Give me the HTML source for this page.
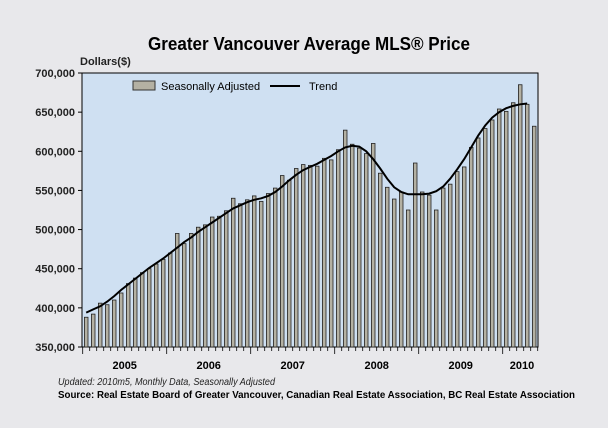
<!DOCTYPE html>
<html><head><meta charset="utf-8"><style>
body{margin:0;width:608px;height:428px;background:#e9e9ec;overflow:hidden;font-family:"Liberation Sans",sans-serif}
svg{display:block}
</style></head><body>
<svg id="chart" width="608" height="428">
<rect x="0" y="0" width="608" height="428" fill="#e8e8eb"/>
<text x="148" y="50" font-size="18" font-weight="bold" textLength="322" lengthAdjust="spacingAndGlyphs">Greater Vancouver Average MLS® Price</text>
<text x="80" y="65" font-size="11" font-weight="bold" fill="#222">Dollars($)</text>
<rect x="82" y="73" width="456" height="274" fill="#cfe0f2" stroke="#000"/>
<g id="bars"></g><g id="axes"></g>
<path id="trend" fill="none" stroke="#000" stroke-width="2"/>
<g>
<rect x="133" y="81" width="22" height="9" fill="#b4b1a3" stroke="#333"/>
<text x="161" y="90" font-size="11">Seasonally Adjusted</text>
<line x1="270" y1="86" x2="300" y2="86" stroke="#000" stroke-width="2"/>
<text x="309" y="90" font-size="11">Trend</text>
</g>
<text x="58" y="385" font-size="10" font-style="italic" fill="#222" textLength="217" lengthAdjust="spacingAndGlyphs">Updated: 2010m5, Monthly Data, Seasonally Adjusted</text>
<text x="58" y="398" font-size="10.5" font-weight="bold" textLength="517" lengthAdjust="spacingAndGlyphs">Source: Real Estate Board of Greater Vancouver, Canadian Real Estate Association, BC Real Estate Association</text>
</svg>
<script>
const years=["2005","2006","2007","2008","2009","2010"];
const yTicks=[350000,400000,450000,500000,550000,600000,650000,700000];
const seasonal=[388,392,406,404,410,419,431,438,445,450,456,462,470,495,482,495,503,506,516,517,524,540,533,538,543,536,546,553,569,563,578,583,582,581,591,589,602,627,609,604,597,610,572,554,539,548,525,585,548,544,525,553,558,574,580,605,617,629,640,654,651,662,685,660,632];
const trend=[394,398,402,408,415,423,430,437,444,451,457,463,470,477,484,490,497,503,509,515,521,527,531,535,538,540,543,548,555,563,570,576,580,584,589,594,600,605,607,606,600,590,578,565,554,548,545,545,545,546,549,555,565,577,590,605,620,633,643,650,655,658,660,661];
const ns="http://www.w3.org/2000/svg";
const X0=82.7,MW=84/12,Y0=347,YT=73,vmin=350,vmax=700;
const xm=i=>X0+MW*(i+0.5);
const yv=v=>Y0-(v-vmin)/(vmax-vmin)*(Y0-YT);
function mk(t,a,p){const e=document.createElementNS(ns,t);for(const k in a)e.setAttribute(k,a[k]);p.appendChild(e);return e;}
const gb=document.getElementById('bars'),ga=document.getElementById('axes');
seasonal.forEach((v,i)=>{
 const r=mk('rect',{x:xm(i)-1.8,y:yv(v),width:3.6,height:Y0-yv(v),fill:'#b4b1a3',stroke:'#222','stroke-width':0.8},gb);
 
 
});
let d='';trend.forEach((v,i)=>{d+=(i?'L':'M')+xm(i).toFixed(1)+','+yv(v).toFixed(1);});
document.getElementById('trend').setAttribute('d',d);
yTicks.forEach(v=>{
 const y=yv(v/1000);
 mk('line',{x1:78,x2:82,y1:y,y2:y,stroke:'#000'},ga);
 const t=mk('text',{x:75,y:y+4,'text-anchor':'end','font-size':11,'font-weight':'bold',fill:'#222'},ga);
 t.textContent=String(v).replace(/(\d{3})$/,',$1');
 
 
});
for(let m=0;m<=years.length*12;m++){
 const x=X0+m*MW;if(x>538)break;
 mk('line',{x1:x,x2:x,y1:Y0,y2:Y0+(m%12?4:7),stroke:'#000','stroke-width':0.8},ga);
}
years.forEach((y,i)=>{
 const t=mk('text',{x:Math.min(X0+MW*12*(i+0.5),522),y:369,'text-anchor':'middle','font-size':11,'font-weight':'bold'},ga);
 t.textContent=y;
 
 
});
</script>
</body></html>
